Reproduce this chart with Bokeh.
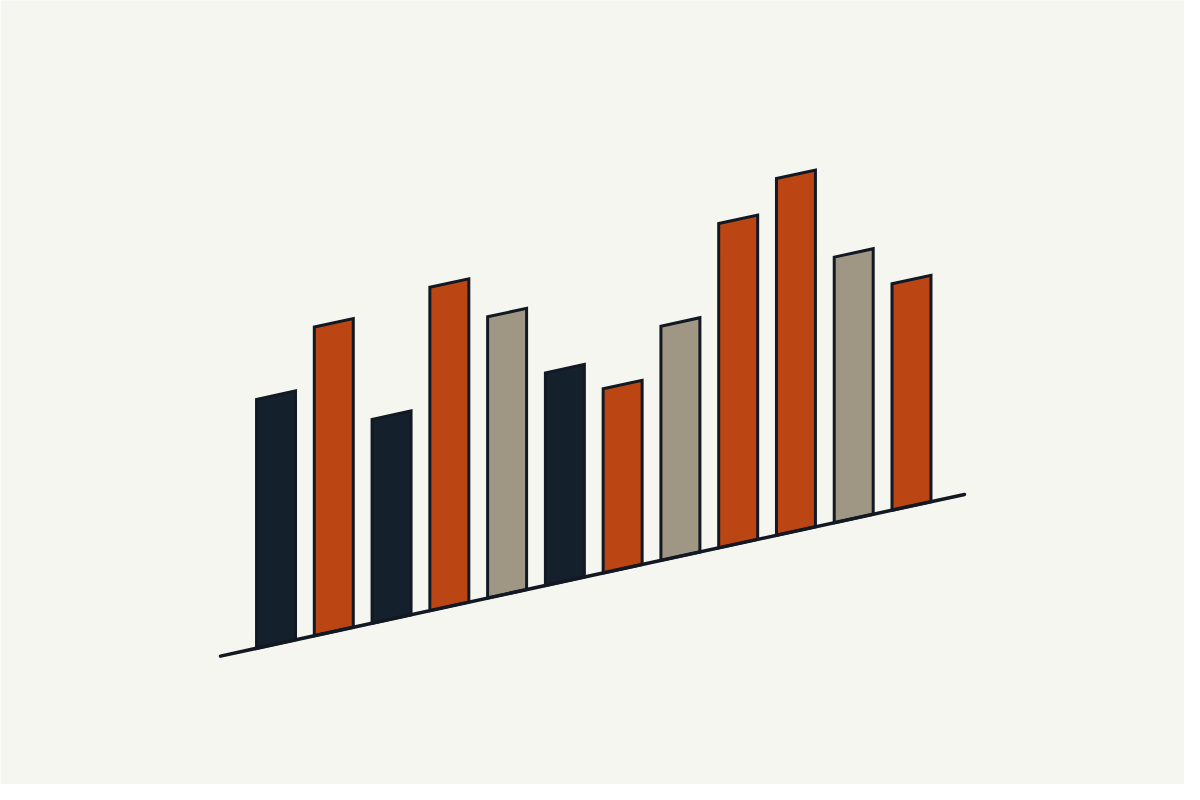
from bokeh.plotting import figure
from bokeh.models import Range1d, ColumnDataSource
from bokeh.embed import file_html
from bokeh.resources import INLINE

# ---- data ----
categories = ["A", "B", "C", "D", "E", "F", "G", "H", "I", "J", "K", "L"]
values = [25.4, 31.5, 20.8, 33.0, 28.7, 21.7, 18.8, 23.9, 33.1, 36.4, 27.1, 23.1]
groups = ["navy", "orange", "navy", "orange", "gray", "navy",
          "orange", "gray", "orange", "orange", "gray", "orange"]

palette = {"navy": "#15202d", "orange": "#bb4513", "gray": "#a09684"}
BG = "#f6f6f1"
INK = "#121923"

# ---- layout (reference pixel space, y measured upward from bottom) ----
W, H = 1184, 784
REF_W, REF_H = 1200, 800
base_x0, base_y0 = 223.0, 131.0       # left end of slanted baseline
base_x1, base_y1 = 977.0, 296.0       # right end
slope = (base_y1 - base_y0) / (base_x1 - base_x0)
first_left = 259.5
pitch = 58.55
bar_w = 39.5
unit = 10.0  # pixels per value unit


def base(x):
    return base_y0 + slope * (x - base_x0)


xs, ys, colors = [], [], []
for i, (v, g) in enumerate(zip(values, groups)):
    xl = first_left + i * pitch
    xr = xl + bar_w
    h = v * unit
    xs.append([xl, xr, xr, xl])
    ys.append([base(xl), base(xr), base(xr) + h, base(xl) + h])
    colors.append(palette[g])

src = ColumnDataSource(dict(xs=xs, ys=ys, color=colors, cat=categories, val=values))

p = figure(width=W, height=H, output_backend="svg", toolbar_location=None,
           x_range=Range1d(0, REF_W), y_range=Range1d(0, REF_H),
           min_border=0, min_border_left=0, min_border_right=0,
           min_border_top=0, min_border_bottom=0)
p.background_fill_color = BG
p.border_fill_color = BG
p.outline_line_color = None
p.axis.visible = False
p.grid.visible = False

p.patches("xs", "ys", source=src, fill_color="color", line_color=INK,
          line_width=3, line_join="miter")

p.line([base_x0, base_x1], [base_y0, base_y1], line_color=INK,
       line_width=3.5, line_cap="round")

open("out.html", "w").write(file_html(p, INLINE))
